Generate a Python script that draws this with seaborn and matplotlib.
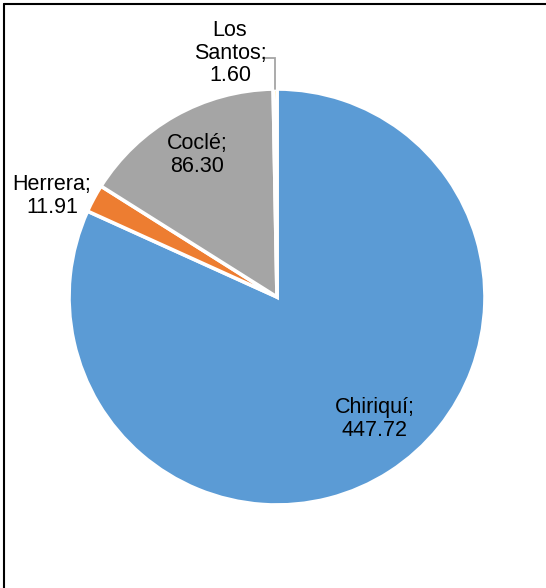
import numpy as np
import matplotlib
matplotlib.use("Agg")
import matplotlib.pyplot as plt
import seaborn as sns

# Data per province
provinces = ["Chiriquí", "Herrera", "Coclé", "Los Santos"]
values = [447.72, 11.91, 86.30, 1.60]
value_labels = ["447.72", "11.91", "86.30", "1.60"]

colors = ["#5B9BD5", "#ED7D31", "#A5A5A5", "#FFC000"]

sns.set_theme(style="white")
plt.rcParams["font.family"] = ["Liberation Sans", "DejaVu Sans"]

W, H = 546, 588
fig = plt.figure(figsize=(W / 100, H / 100), dpi=100)
ax = fig.add_axes([0, 0, 1, 1])

cx, cy, r = 277, H - 297, 208
wedges, _ = ax.pie(values, colors=colors, startangle=90, counterclock=False,
                   center=(cx, cy), radius=r, frame=True,
                   wedgeprops=dict(edgecolor="white", linewidth=2.6))
ax.set_xlim(0, W)
ax.set_ylim(0, H)
ax.set_aspect("equal")
ax.axis("off")

# label positions (pixel coords, origin top-left)
label_pos = {
    "Chiriquí": (375, 419),
    "Herrera": (52, 196),
    "Coclé": (197, 155),
    "Los Santos": (230, 53),
}
fs = 15.5
for name, val in zip(provinces, value_labels):
    x, y = label_pos[name]
    if name == "Los Santos":
        txt = "Los\nSantos;\n" + val
    else:
        txt = f"{name};\n{val}"
    ax.text(x, H - y, txt, ha="center", va="center", fontsize=fs,
            color="black", linespacing=1.08)

# leader line for the smallest slice
w = wedges[3]
mid = np.deg2rad((w.theta1 + w.theta2) / 2)
ex = cx + r * np.cos(mid)
ey = cy + r * np.sin(mid)
ax.plot([263, ex, ex], [H - 58, H - 58, ey], color="#A5A5A5", lw=1.3,
        solid_joinstyle="miter")

# frame lines (top and left)
ax.plot([3.5, W], [H - 3.5, H - 3.5], color="black", lw=1.5, clip_on=False)
ax.plot([3.5, 3.5], [0, H - 3.5], color="black", lw=1.5, clip_on=False)

fig.savefig("out.png", dpi=100)
